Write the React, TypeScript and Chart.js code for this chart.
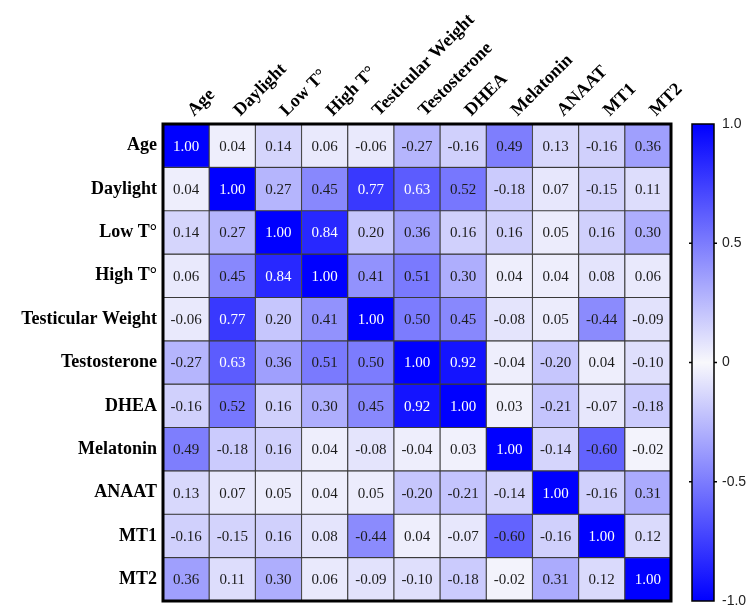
import React, { useEffect, useRef } from "react";
import { Chart, registerables } from "chart.js";

Chart.register(...registerables);

const variables = [
  "Age",
  "Daylight",
  "Low T°",
  "High T°",
  "Testicular Weight",
  "Testosterone",
  "DHEA",
  "Melatonin",
  "ANAAT",
  "MT1",
  "MT2",
];

const ageRow = [1.0, 0.04, 0.14, 0.06, -0.06, -0.27, -0.16, 0.49, 0.13, -0.16, 0.36];
const daylightRow = [0.04, 1.0, 0.27, 0.45, 0.77, 0.63, 0.52, -0.18, 0.07, -0.15, 0.11];
const lowTRow = [0.14, 0.27, 1.0, 0.84, 0.2, 0.36, 0.16, 0.16, 0.05, 0.16, 0.3];
const highTRow = [0.06, 0.45, 0.84, 1.0, 0.41, 0.51, 0.3, 0.04, 0.04, 0.08, 0.06];
const testicularWeightRow = [-0.06, 0.77, 0.2, 0.41, 1.0, 0.5, 0.45, -0.08, 0.05, -0.44, -0.09];
const testosteroneRow = [-0.27, 0.63, 0.36, 0.51, 0.5, 1.0, 0.92, -0.04, -0.2, 0.04, -0.1];
const dheaRow = [-0.16, 0.52, 0.16, 0.3, 0.45, 0.92, 1.0, 0.03, -0.21, -0.07, -0.18];
const melatoninRow = [0.49, -0.18, 0.16, 0.04, -0.08, -0.04, 0.03, 1.0, -0.14, -0.6, -0.02];
const anaatRow = [0.13, 0.07, 0.05, 0.04, 0.05, -0.2, -0.21, -0.14, 1.0, -0.16, 0.31];
const mt1Row = [-0.16, -0.15, 0.16, 0.08, -0.44, 0.04, -0.07, -0.6, -0.16, 1.0, 0.12];
const mt2Row = [0.36, 0.11, 0.3, 0.06, -0.09, -0.1, -0.18, -0.02, 0.31, 0.12, 1.0];

const matrixRows = [
  ageRow,
  daylightRow,
  lowTRow,
  highTRow,
  testicularWeightRow,
  testosteroneRow,
  dheaRow,
  melatoninRow,
  anaatRow,
  mt1Row,
  mt2Row,
];

const colorbarTicks = [-1, -0.5, 0, 0.5, 1];
const colorbarLabels = ["-1.0", "-0.5", "0", "0.5", "1.0"];

function cellColor(v: number): string {
  const a = Math.min(1, Math.abs(v));
  const c = Math.round(248 * (1 - a));
  const b = Math.round(252 + 3 * a);
  return `rgb(${c},${c},${b})`;
}

const cellTextPlugin = {
  id: "cellText",
  afterDatasetsDraw(chart: any) {
    const ctx = chart.ctx;
    ctx.save();
    ctx.font = "15px 'Liberation Serif', serif";
    ctx.textAlign = "center";
    ctx.textBaseline = "middle";
    chart.data.datasets.forEach((ds: any, di: number) => {
      const meta = chart.getDatasetMeta(di);
      meta.data.forEach((el: any, j: number) => {
        const v = matrixRows[di][j];
        const cy = (el.y + el.base) / 2;
        ctx.fillStyle = Math.abs(v) >= 0.62 ? "#ffffff" : "#1c1c1c";
        ctx.fillText(v.toFixed(2), el.x, cy + 1);
      });
    });
    const ca = chart.chartArea;
    ctx.strokeStyle = "#000";
    ctx.lineWidth = 3;
    ctx.strokeRect(ca.left, ca.top, ca.right - ca.left, ca.bottom - ca.top);
    ctx.restore();
  },
};

const colorbarPlugin = {
  id: "colorbar",
  afterDraw(chart: any) {
    const s = chart.scales.y2;
    const ctx = chart.ctx;
    const left = chart.chartArea.right + 21;
    const w = 22;
    const top = s.getPixelForValue(1);
    const bottom = s.getPixelForValue(-1);
    ctx.save();
    const g = ctx.createLinearGradient(0, top, 0, bottom);
    g.addColorStop(0, cellColor(1));
    g.addColorStop(0.5, cellColor(0));
    g.addColorStop(1, cellColor(-1));
    ctx.fillStyle = g;
    ctx.fillRect(left, top, w, bottom - top);
    ctx.strokeStyle = "#000";
    ctx.lineWidth = 1.5;
    ctx.strokeRect(left, top, w, bottom - top);
    colorbarTicks.forEach((t) => {
      if (Math.abs(t) === 1) return;
      const y = s.getPixelForValue(t);
      ctx.beginPath();
      ctx.moveTo(left - 3, y);
      ctx.lineTo(left, y);
      ctx.moveTo(left + w, y);
      ctx.lineTo(left + w + 3, y);
      ctx.stroke();
    });
    ctx.restore();
  },
};

export default function App() {
  const ref = useRef<HTMLCanvasElement | null>(null);

  useEffect(() => {
    document.body.style.margin = "0";
    document.body.style.overflow = "hidden";
    const canvas = ref.current;
    if (!canvas) return;

    const datasets = matrixRows.map((row, ri) => ({
      label: variables[ri],
      data: row.map(() => 1),
      backgroundColor: row.map((v) => cellColor(v)),
      borderColor: "#3a3a3a",
      borderWidth: 0.9,
      borderSkipped: false,
      barPercentage: 1,
      categoryPercentage: 1,
    }));

    const labelFont = { family: "'Liberation Serif', serif", size: 18, weight: "bold" };

    const chart = new Chart(canvas, {
      type: "bar",
      data: { labels: variables, datasets },
      options: {
        animation: false,
        responsive: false,
        devicePixelRatio: 1,
        layout: { padding: { top: 0, left: 0, right: 0, bottom: 7 } },
        plugins: {
          legend: { display: false },
          tooltip: { enabled: false },
        },
        scales: {
          x: {
            type: "category",
            position: "top",
            stacked: true,
            grid: { display: false, drawTicks: false },
            border: { display: false },
            ticks: {
              color: "#000",
              font: labelFont,
              minRotation: 45,
              maxRotation: 45,
              autoSkip: false,
              padding: 3,
              labelOffset: 20,
            },
            afterFit: (scale: any) => {
              scale.height = 124;
              scale.paddingLeft = 0;
              scale.paddingRight = 0;
            },
          },
          y: {
            type: "linear",
            stacked: true,
            reverse: true,
            min: 0,
            max: variables.length,
            display: false,
          },
          yLabels: {
            type: "category",
            position: "left",
            labels: variables,
            offset: true,
            grid: { display: false, drawTicks: false },
            border: { display: false },
            ticks: {
              color: "#000",
              font: labelFont,
              autoSkip: false,
              padding: 6,
            },
            afterFit: (scale: any) => {
              scale.width = 163;
              scale.paddingTop = 0;
              scale.paddingBottom = 0;
            },
          },
          y2: {
            type: "linear",
            position: "right",
            min: -1,
            max: 1,
            grid: { display: false, drawTicks: false },
            border: { display: false },
            afterBuildTicks: (scale: any) => {
              scale.ticks = colorbarTicks.map((v) => ({ value: v }));
            },
            ticks: {
              color: "#222",
              font: { family: "'Liberation Sans', Arial, sans-serif", size: 14 },
              padding: 51,
              callback: (value: any) => {
                const i = colorbarTicks.indexOf(Number(value));
                return i >= 0 ? colorbarLabels[i] : "";
              },
            },
            afterFit: (scale: any) => {
              scale.width = 77;
              scale.paddingTop = 0;
              scale.paddingBottom = 0;
            },
          },
        },
      },
      plugins: [cellTextPlugin, colorbarPlugin],
    } as any);

    return () => {
      chart.destroy();
    };
  }, []);

  return (
    <div style={{ width: 748, height: 608, overflow: "hidden" }}>
      <canvas ref={ref} width={748} height={608} style={{ display: "block" }} />
    </div>
  );
}
